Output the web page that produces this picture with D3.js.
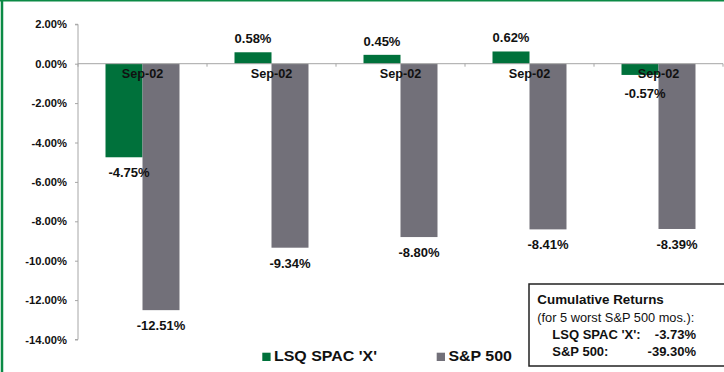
<!DOCTYPE html>
<html><head><meta charset="utf-8">
<script src="https://cdn.jsdelivr.net/npm/d3@7"></script>
<style>
html,body{margin:0;padding:0;background:#fff;}
svg{display:block;font-family:"Liberation Sans",Arial,sans-serif;}
</style></head>
<body><svg id="c" width="724" height="372"></svg>
<script>
const categories = ["Sep-02","Sep-02","Sep-02","Sep-02","Sep-02"];
const lsqValues = [-4.75, 0.58, 0.45, 0.62, -0.57];
const spValues = [-12.51, -9.34, -8.80, -8.41, -8.39];
const seriesNames = ["LSQ SPAC 'X'", "S&P 500"];
const yTicks = [2, 0, -2, -4, -6, -8, -10, -12, -14];
const summaryTitle = "Cumulative Returns";
const summarySub = "(for 5 worst S&P 500 mos.):";
const summaryRows = [["LSQ SPAC 'X':", "-3.73%"], ["S&P 500:", "-39.30%"]];

const GREEN = "#00713b", GREY = "#727079", AXIS = "#a6a6a6", BORDER = "#0b8a45";
const pct = v => d3.format(".2f")(v).replace("\u2212","-") + "%";
const svg = d3.select("#c");

// outer border (left & top visible)
svg.append("line").attr("x1",2).attr("x2",2).attr("y1",0).attr("y2",372).attr("stroke",BORDER).attr("stroke-width",2.5);
svg.append("line").attr("x1",0).attr("x2",724).attr("y1",0.7).attr("y2",0.7).attr("stroke",BORDER).attr("stroke-width",1.6);

const x0 = 78, x1 = 723;
const idx = categories.map((d,i)=>i);
const x = d3.scaleBand().domain(idx).range([x0,x1]).paddingInner(0.4264).paddingOuter(0.2132);
const xs = d3.scaleBand().domain([0,1]).range([0,x.bandwidth()]);
const y = d3.scaleLinear().domain([-14,2]).range([339.5,24.3]);

// y axis
const yAxis = d3.axisLeft(y).tickValues(yTicks).tickSize(3).tickPadding(8).tickFormat(pct);
const gy = svg.append("g").attr("transform",`translate(${x0},0)`).call(yAxis);
gy.select(".domain").attr("stroke",AXIS).attr("d",`M-3,${y(2)}H0V${y(-14)}H-3`);
gy.selectAll(".tick line").attr("stroke",AXIS);
gy.selectAll(".tick text").attr("fill","#111").attr("font-weight","bold").attr("font-size","11.2px").attr("font-family","Liberation Sans, Arial, sans-serif");

// bars
const data = idx.map(i=>({i, v:[lsqValues[i], spValues[i]]}));
const groups = svg.append("g").selectAll("g").data(data).join("g").attr("transform",d=>`translate(${x(d.i)},0)`);
groups.selectAll("rect").data(d=>d.v.map((v,k)=>({v,k}))).join("rect")
  .attr("x",d=>xs(d.k)).attr("width",xs.bandwidth())
  .attr("y",d=>Math.min(y(d.v),y(0))).attr("height",d=>Math.abs(y(d.v)-y(0)))
  .attr("fill",d=>d.k===0?GREEN:GREY);

// category axis at zero
const step = x.step();
const gx = svg.append("g");
gx.append("line").attr("x1",x0).attr("x2",x1).attr("y1",y(0)).attr("y2",y(0)).attr("stroke",AXIS);
d3.range(categories.length+1).forEach(i=>{
  const xx = x0 + i*step;
  gx.append("line").attr("x1",xx).attr("x2",xx).attr("y1",y(0)).attr("y2",y(0)+3).attr("stroke",AXIS);
});
gx.selectAll("text").data(idx).join("text")
  .attr("x",i=>x(i)+x.bandwidth()/2).attr("y",y(0)+14.5)
  .attr("text-anchor","middle").attr("font-weight","bold").attr("font-size","12.7px").attr("fill","#111")
  .text(i=>categories[i]);

// value labels
const labels = svg.append("g");
data.forEach(d=>{
  d.v.forEach((v,k)=>{
    const cx = x(d.i)+xs(k)+xs.bandwidth()/2 + (k===0 && v<0 ? 5 : 0);
    const yy = v>=0 ? y(v)-9 : Math.max(y(v)+20, y(0)+34);
    labels.append("text").attr("x",cx).attr("y",yy).attr("text-anchor","middle")
      .attr("font-weight","bold").attr("font-size","13px").attr("fill","#111")
      .text(pct(v));
  });
});

// legend
const leg = [{n:seriesNames[0],c:GREEN,x:262.3},{n:seriesNames[1],c:GREY,x:436.7}];
leg.forEach(l=>{
  svg.append("rect").attr("x",l.x).attr("y",352.7).attr("width",8.3).attr("height",8.3).attr("fill",l.c);
  svg.append("text").attr("transform",`translate(${l.x+11.7},361.3) scale(1.1,1)`)
    .attr("font-weight","bold").attr("font-size","14.5px").attr("fill","#111").text(l.n);
});

// summary box
svg.append("rect").attr("x",529).attr("y",284).attr("width",200).attr("height",82).attr("fill","#fff").attr("stroke","#222").attr("stroke-width",1.5);
svg.append("text").attr("x",537.3).attr("y",304).attr("font-weight","bold").attr("font-size","13.4px").attr("fill","#111").text(summaryTitle);
svg.append("text").attr("x",537.3).attr("y",321.5).attr("font-size","12.8px").attr("fill","#111").text(summarySub);
summaryRows.forEach((r,i)=>{
  const yy = 338.7 + i*17.5;
  svg.append("text").attr("x",552.3).attr("y",yy).attr("font-weight","bold").attr("font-size","13px").attr("fill","#111").text(r[0]);
  svg.append("text").attr("x",696).attr("y",yy).attr("text-anchor","end").attr("font-weight","bold").attr("font-size","13px").attr("fill","#111").text(r[1]);
});
</script></body></html>
